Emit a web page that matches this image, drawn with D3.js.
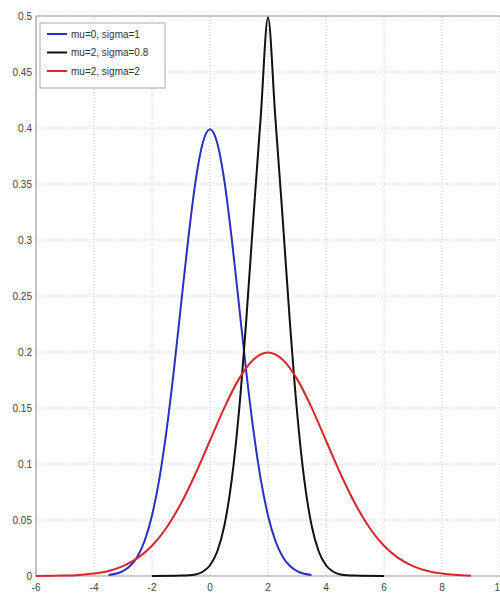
<!DOCTYPE html>
<html>
<head>
<meta charset="utf-8">
<script src="https://cdn.jsdelivr.net/npm/d3@7"></script>
<style>
  body { margin: 0; background: #fff; }
  svg { display: block; }
</style>
</head>
<body>
<div id="plot"></div>
<script>
const width = 500;
const height = 600;
const margin = { top: 16, right: 0, bottom: 24, left: 36 };

// values (density curves)
const blueX = [-3.5, -3.25, -3, -2.75, -2.5, -2.25, -2, -1.75, -1.5, -1.25, -1, -0.75, -0.5, -0.25, 0,
               0.25, 0.5, 0.75, 1, 1.25, 1.5, 1.75, 2, 2.25, 2.5, 2.75, 3, 3.25, 3.5];
const blueY = [0.0009, 0.002, 0.0044, 0.0091, 0.0175, 0.0317, 0.054, 0.0863, 0.1295, 0.1826, 0.242, 0.3011, 0.3521, 0.3867, 0.3989,
               0.3867, 0.3521, 0.3011, 0.242, 0.1826, 0.1295, 0.0863, 0.054, 0.0317, 0.0175, 0.0091, 0.0044, 0.002, 0.0009];

const blackX = [-2, -1, -0.5, -0.25, 0, 0.25, 0.5, 0.75, 1, 1.25, 1.5, 1.75, 2,
                2.25, 2.5, 2.75, 3, 3.25, 3.5, 3.75, 4, 4.25, 4.5, 5, 6];
const blackY = [0, 0.0004, 0.0014, 0.0038, 0.0096, 0.0219, 0.0456, 0.086, 0.1471, 0.2283, 0.3214, 0.4102, 0.4987,
                0.4102, 0.3214, 0.2283, 0.1471, 0.086, 0.0456, 0.0219, 0.0096, 0.0038, 0.0014, 0.0004, 0];

const redX = [-6, -5, -4.5, -4, -3.5, -3, -2.5, -2, -1.5, -1, -0.5, 0, 0.5, 1, 1.5, 2,
              2.5, 3, 3.5, 4, 4.5, 5, 5.5, 6, 6.5, 7, 7.5, 8, 9];
const redY = [0.0001, 0.0004, 0.001, 0.0022, 0.0045, 0.0088, 0.0159, 0.027, 0.0431, 0.0648, 0.0913, 0.121, 0.1506, 0.176, 0.1933, 0.1995,
              0.1933, 0.176, 0.1506, 0.121, 0.0913, 0.0648, 0.0431, 0.027, 0.0159, 0.0088, 0.0045, 0.0022, 0.0002];

const xTicks = [-6, -4, -2, 0, 2, 4, 6, 8, 10];
const yTicks = [0, 0.05, 0.1, 0.15, 0.2, 0.25, 0.3, 0.35, 0.4, 0.45, 0.5];
const seriesNames = ["mu=0, sigma=1", "mu=2, sigma=0.8", "mu=2, sigma=2"];
const seriesColors = ["#2b2fc4", "#111111", "#d8262b"];

const svg = d3.select("#plot").append("svg").attr("width", width).attr("height", height);

const x = d3.scaleLinear().domain([-6, 10]).range([margin.left, 500]);
const y = d3.scaleLinear().domain([0, 0.5]).range([height - margin.bottom, margin.top]);

const font = "'Liberation Sans Narrow', 'Liberation Sans', Arial, sans-serif";

// grid
svg.append("g").selectAll("line").data(xTicks.slice(1)).enter().append("line")
    .attr("x1", d => x(d)).attr("x2", d => x(d))
    .attr("y1", y(0)).attr("y2", y(0.5))
    .attr("stroke", "#c8c8c8").attr("stroke-dasharray", "1,2");
svg.append("g").selectAll("line").data(yTicks.slice(1)).enter().append("line")
    .attr("x1", x(-6)).attr("x2", x(10))
    .attr("y1", d => y(d)).attr("y2", d => y(d))
    .attr("stroke", "#c8c8c8").attr("stroke-dasharray", "1,2");

// axes box
svg.append("line").attr("x1", x(-6)).attr("x2", x(10)).attr("y1", y(0.5)).attr("y2", y(0.5))
    .attr("stroke", "#999").attr("stroke-width", 1.2);
svg.append("line").attr("x1", x(-6)).attr("x2", x(10)).attr("y1", y(0)).attr("y2", y(0))
    .attr("stroke", "#999").attr("stroke-width", 1.2);
svg.append("line").attr("x1", x(-6)).attr("x2", x(-6)).attr("y1", y(0)).attr("y2", y(0.5))
    .attr("stroke", "#999").attr("stroke-width", 1.2);

// tick labels
svg.append("g").selectAll("text").data(xTicks).enter().append("text")
    .attr("x", d => x(d)).attr("y", y(0) + 15)
    .attr("text-anchor", "middle")
    .attr("font-family", font).attr("font-size", 10).attr("fill", "#444")
    .text(d => d);
svg.append("g").selectAll("text").data(yTicks).enter().append("text")
    .attr("x", x(-6) - 4).attr("y", d => y(d) + 3.5)
    .attr("text-anchor", "end")
    .attr("font-family", font).attr("font-size", 10).attr("fill", "#444")
    .text(d => d);

// curves
const line = d3.line().x(d => x(d[0])).y(d => y(d[1])).curve(d3.curveMonotoneX);
const series = [
    d3.zip(blueX, blueY),
    d3.zip(blackX, blackY),
    d3.zip(redX, redY)
];
series.forEach((s, i) => {
    svg.append("path").datum(s)
        .attr("d", line)
        .attr("fill", "none")
        .attr("stroke", seriesColors[i])
        .attr("stroke-width", 2);
});

// legend
const lg = svg.append("g").attr("transform", "translate(40,23)");
lg.append("rect").attr("width", 125).attr("height", 65)
    .attr("fill", "#fff").attr("stroke", "#aaa");
seriesNames.forEach((name, i) => {
    const yy = 11 + i * 18.5;
    lg.append("line").attr("x1", 7).attr("x2", 27).attr("y1", yy).attr("y2", yy)
        .attr("stroke", seriesColors[i]).attr("stroke-width", 2);
    lg.append("text").attr("x", 31).attr("y", yy + 3.5)
        .attr("font-family", font).attr("font-size", 10).attr("fill", "#333")
        .text(name);
});
</script>
</body>
</html>
